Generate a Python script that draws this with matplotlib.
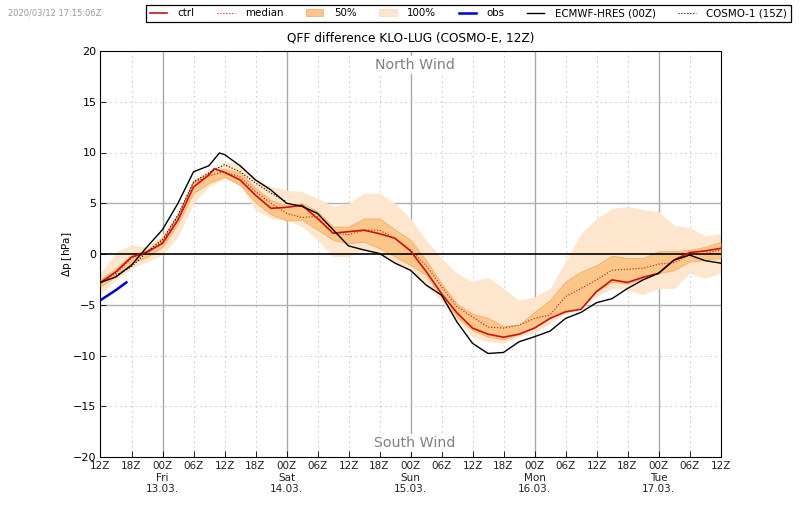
import matplotlib
matplotlib.use('Agg')
import matplotlib.pyplot as plt
from matplotlib.lines import Line2D
from matplotlib.patches import Patch

# hours since run start (3-hourly)
hours = list(range(0, 123, 3))

ctrl_hours = hours[:8] + [22] + hours[8:]
ctrl = [-2.8, -1.75, -0.3, 0.2, 1.05, 3.35, 6.6, 7.8, 8.4, 8.05, 7.3, 5.8, 4.5, 4.6, 4.8, 3.5, 2.05, 2.2,
        2.35, 2.0, 1.55, 0.3, -1.7, -3.9, -5.8, -7.3, -7.9, -8.2, -7.9, -7.3, -6.35, -5.7, -5.45,
        -3.7, -2.55, -2.8, -2.3, -1.9, -0.6, 0.15, 0.3, 0.55]
median = [-2.9, -1.9, -0.4, 0.05, 1.2, 3.7, 7.0, 7.7, 8.1, 7.6, 6.15, 5.0, 4.0, 3.6, 3.7, 2.05, 1.9,
          2.35, 2.35, 1.55, 0.4, -1.1, -3.2, -5.2, -6.2, -7.2, -7.3, -7.0, -6.35, -6.0, -4.2, -3.4,
          -2.55, -1.6, -1.5, -1.4, -1.0, -0.85, -0.1, 0.05, 0.4]
p50_lo = [-3.2, -2.2, -0.9, -0.3, 0.7, 3.0, 6.0, 7.0, 7.6, 6.8, 5.1, 3.9, 3.3, 3.35, 2.4, 1.4, 1.05,
          1.2, 0.55, -0.25, -1.1, -2.05, -4.2, -6.2, -7.5, -8.15, -8.4, -7.9, -7.2, -6.2, -5.5, -5.3,
          -3.7, -2.75, -2.9, -2.4, -1.9, -1.6, -0.75, -0.6, -0.4]
p50_hi = [-2.5, -1.4, -0.1, 0.4, 1.6, 3.9, 7.2, 8.0, 8.4, 8.0, 6.5, 5.3, 4.8, 5.0, 4.2, 2.7, 2.7,
          3.5, 3.5, 2.4, 1.4, -0.6, -2.9, -4.9, -5.9, -6.3, -7.1, -7.0, -5.7, -4.55, -2.7, -1.75,
          -1.1, -0.15, -0.4, -0.4, 0.25, 0.3, 0.4, 0.7, 1.2]
p100_lo = [-3.9, -2.6, -1.4, -0.75, -0.1, 1.7, 5.0, 6.65, 7.45, 6.8, 4.35, 3.5, 3.35, 2.7, 1.4, -0.25, -0.25,
           0.45, 0.0, -0.9, -1.75, -3.2, -4.65, -6.5, -8.15, -8.65, -8.8, -8.15, -7.8, -6.85, -5.85, -5.35,
           -4.2, -3.4, -3.55, -4.0, -3.4, -3.4, -1.9, -2.4, -1.9]
p100_hi = [-1.9, 0.2, 0.9, 0.7, 1.9, 4.0, 7.3, 8.3, 9.1, 8.95, 7.45, 6.65, 6.3, 6.15, 5.5, 4.7, 5.0,
           6.0, 6.0, 5.0, 3.5, 1.4, -0.4, -1.9, -2.7, -2.3, -3.4, -4.55, -4.2, -3.4, -0.75, 2.0,
           3.5, 4.5, 4.7, 4.35, 4.2, 2.85, 2.6, 1.8, 2.0]
ecmwf_hours = hours[:8] + [23] + hours[8:]
ecmwf = [-2.8, -2.25, -1.1, 0.7, 2.4, 5.0, 8.1, 8.7, 9.95, 9.8, 8.7, 7.3, 6.3, 5.0, 4.7, 4.0, 2.4, 0.8,
         0.4, 0.05, -0.9, -1.6, -3.05, -4.05, -6.7, -8.8, -9.8, -9.7, -8.65, -8.15, -7.6, -6.35, -5.75,
         -4.8, -4.4, -3.4, -2.55, -1.9, -0.6, -0.1, -0.65, -0.9]
cosmo_hours = list(range(3, 39, 3))
cosmo = [-2.1, -1.25, 0.2, 1.4, 3.85, 7.1, 8.0, 8.8, 8.1, 7.0, 6.0, 5.15]
obs_hours = [0, 3, 5]
obs = [-4.55, -3.55, -2.8]

xticks = list(range(0, 126, 6))
xlabels = ['12Z', '18Z', '00Z\nFri\n13.03.', '06Z', '12Z', '18Z', '00Z\nSat\n14.03.', '06Z', '12Z', '18Z',
           '00Z\nSun\n15.03.', '06Z', '12Z', '18Z', '00Z\nMon\n16.03.', '06Z', '12Z', '18Z',
           '00Z\nTue\n17.03.', '06Z', '12Z']
yticks = [-20, -15, -10, -5, 0, 5, 10, 15, 20]

col_ctrl = '#cc1111'
col_50 = '#fdc689'
col_100 = '#fde6cd'
dots = (0, (1, 3.5))

fig = plt.figure(figsize=(8, 5.09), dpi=100)
ax = fig.add_axes([100.5 / 800, 1 - 457.0 / 509, 620.0 / 800, 406.0 / 509])

ax.fill_between(hours, p100_lo, p100_hi, color=col_100, lw=0, zorder=2)
ax.fill_between(hours, p50_lo, p50_hi, facecolor=col_50, edgecolor='#f0a860', lw=0.5, zorder=3)

# grid, only the 00Z and +-5 lines are solid
for t in xticks:
    if t % 24 == 12:
        ax.axvline(t, color='#a8a8a8', lw=1.0, zorder=1)
    else:
        ax.axvline(t, color='#b8b8b8', lw=0.8, ls=dots, zorder=1)
for v in yticks:
    if abs(v) == 5:
        ax.axhline(v, color='#b0b0b0', lw=1.0, zorder=1)
    elif v != 0:
        ax.axhline(v, color='#b8b8b8', lw=0.8, ls=dots, zorder=1)
ax.axhline(0, color='black', lw=1.2, zorder=4)

ax.plot(hours, median, color=col_ctrl, lw=0.8, ls=':', zorder=5)
ax.plot(ctrl_hours, ctrl, color=col_ctrl, lw=1.2, zorder=6)
ax.plot(ecmwf_hours, ecmwf, color='black', lw=1.0, zorder=7)
ax.plot(cosmo_hours, cosmo, color='black', lw=0.8, ls=':', zorder=7)
ax.plot(obs_hours, obs, color='#0000dd', lw=1.8, zorder=8)

ax.set_xlim(0, 120)
ax.set_ylim(-20, 20)
ax.set_xticks(xticks)
ax.set_xticklabels(xlabels, fontsize=7.5, color='#222222')
ax.set_yticks(yticks)
ax.tick_params(axis='y', labelsize=8, direction='in', length=4, width=0.6, pad=3)
ax.tick_params(axis='x', direction='in', length=4, width=0.6, pad=3)
ax.set_ylabel(r'$\Delta$p [hPa]', fontsize=7.5, labelpad=-1)
ax.set_title('QFF difference KLO-LUG (COSMO-E, 12Z)', fontsize=8.7, pad=7)

ax.text(60.9, 19.3, 'North Wind', color='gray', fontsize=10.2, ha='center', va='top',
        bbox=dict(facecolor='white', edgecolor='none', pad=1.5), zorder=9)
ax.text(60.9, -19.3, 'South Wind', color='gray', fontsize=10.2, ha='center', va='bottom',
        bbox=dict(facecolor='white', edgecolor='none', pad=1.5), zorder=9)

fig.text(8 / 800, 1 - 12.5 / 509, '2020/03/12 17:15:06Z', color='#999999', fontsize=6, va='center')

handles = [
    Line2D([], [], color=col_ctrl, lw=1.2),
    Line2D([], [], color=col_ctrl, lw=0.8, ls=':'),
    Patch(facecolor=col_50, edgecolor='#f0a860', lw=0.5),
    Patch(facecolor=col_100, edgecolor='#f5d8b8', lw=0.5),
    Line2D([], [], color='#0000dd', lw=1.8),
    Line2D([], [], color='black', lw=1.0),
    Line2D([], [], color='black', lw=0.8, ls=':'),
]
names = ['ctrl', 'median', '50%', '100%', 'obs', 'ECMWF-HRES (00Z)', 'COSMO-1 (15Z)']
leg = fig.legend(handles, names, ncol=7, fontsize=7.4, loc='upper right',
                 bbox_to_anchor=(790.5 / 800, 1 - 4.5 / 509), borderaxespad=0, fancybox=False,
                 framealpha=1, edgecolor='black', columnspacing=2.2, handlelength=1.7,
                 handletextpad=1.0, borderpad=0.35)
leg.get_frame().set_linewidth(0.9)

fig.savefig('out.png', dpi=100)
